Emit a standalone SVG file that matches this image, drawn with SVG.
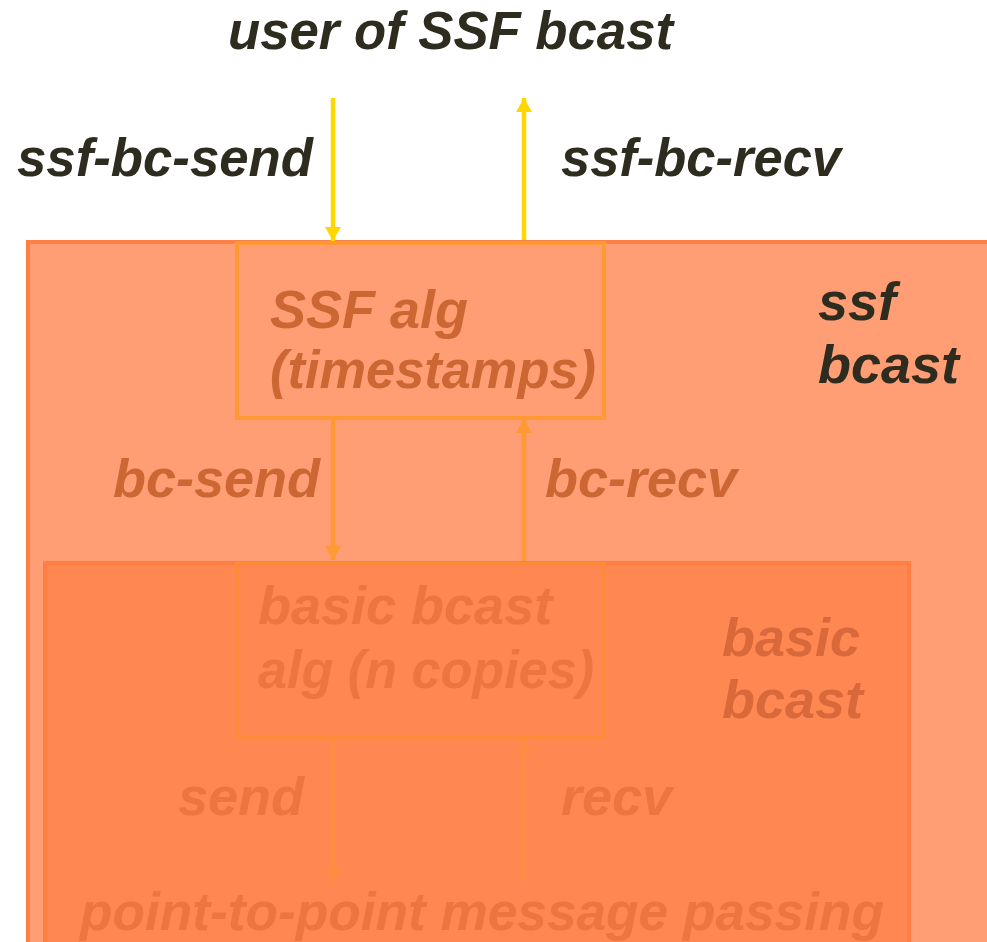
<svg xmlns="http://www.w3.org/2000/svg" width="987" height="942" viewBox="0 0 987 942">
<style>
text{font-family:"Liberation Sans",Arial,sans-serif;font-weight:bold;font-style:italic;font-size:54px}
.dark{fill:#2E2B1F}
.mid{fill:#CC6633}
.inn{fill:#EC7540}
.lbl{fill:#D9683A}
.c{stroke-width:4.5;fill:none}
</style>
<defs>
<marker id="ay" viewBox="0 0 14 16" refX="14" refY="8" markerWidth="14" markerHeight="16" orient="auto" markerUnits="userSpaceOnUse"><path d="M0,0L14,8L0,16z" fill="#FFD700"/></marker>
<marker id="ao" viewBox="0 0 14 16" refX="14" refY="8" markerWidth="14" markerHeight="16" orient="auto" markerUnits="userSpaceOnUse"><path d="M0,0L14,8L0,16z" fill="#FF9933"/></marker>
<marker id="ai" viewBox="0 0 14 16" refX="14" refY="8" markerWidth="14" markerHeight="16" orient="auto" markerUnits="userSpaceOnUse"><path d="M0,0L14,8L0,16z" fill="#FF8C42"/></marker>
</defs>
<rect width="987" height="942" fill="#FFFFFF"/>
<g id="user">
<text class="dark" x="228" y="49" font-size="52" textLength="445" lengthAdjust="spacingAndGlyphs">user of SSF bcast</text>
</g>
<g id="ssf-bcast">
<rect x="28" y="242" width="990" height="720" fill="#FF9E74" stroke="#FF7F45" stroke-width="4"/>
<text class="dark" x="818" y="320">ssf</text>
<text class="dark" x="818" y="383">bcast</text>
</g>
<g id="ssf-alg">
<rect x="237" y="243" width="367" height="175" fill="none" stroke="#FF9933" stroke-width="4"/>
<text class="mid" x="270" y="328">SSF alg</text>
<text class="mid" x="270" y="388" textLength="326" lengthAdjust="spacingAndGlyphs">(timestamps)</text>
</g>
<g id="basic-bcast">
<rect x="45" y="563" width="864" height="420" fill="#FF8751" stroke="#FF7F42" stroke-width="4"/>
<text class="lbl" x="722" y="656">basic</text>
<text class="lbl" x="722" y="718">bcast</text>
</g>
<g id="basic-alg">
<rect x="237" y="564" width="367" height="174" fill="none" stroke="#FF8A3A" stroke-width="4"/>
<text class="inn" x="258" y="624">basic bcast</text>
<text class="inn" x="258" y="688" textLength="336" lengthAdjust="spacingAndGlyphs">alg (n copies)</text>
</g>
<g id="p2p">
<text class="inn" x="80" y="930" textLength="804" lengthAdjust="spacingAndGlyphs">point-to-point message passing</text>
</g>
<g id="connectors">
<line class="c" x1="333" y1="98" x2="333" y2="241" stroke="#FFD700" marker-end="url(#ay)"/>
<line class="c" x1="524" y1="240" x2="524" y2="98" stroke="#FFD700" marker-end="url(#ay)"/>
<line class="c" x1="333" y1="420" x2="333" y2="560" stroke="#FF9933" marker-end="url(#ao)"/>
<line class="c" x1="524" y1="561" x2="524" y2="419" stroke="#FF9933" marker-end="url(#ao)"/>
<line class="c" x1="333" y1="740" x2="333" y2="882" stroke="#FF8C42" marker-end="url(#ai)"/>
<line class="c" x1="524" y1="882" x2="524" y2="740" stroke="#FF8C42" marker-end="url(#ai)"/>
<text class="dark" x="17" y="176" textLength="296" lengthAdjust="spacingAndGlyphs">ssf-bc-send</text>
<text class="dark" x="561" y="176" textLength="280" lengthAdjust="spacingAndGlyphs">ssf-bc-recv</text>
<text class="mid" x="113" y="497">bc-send</text>
<text class="mid" x="545" y="497">bc-recv</text>
<text class="inn" x="178" y="815">send</text>
<text class="inn" x="561" y="815">recv</text>
</g>
</svg>
